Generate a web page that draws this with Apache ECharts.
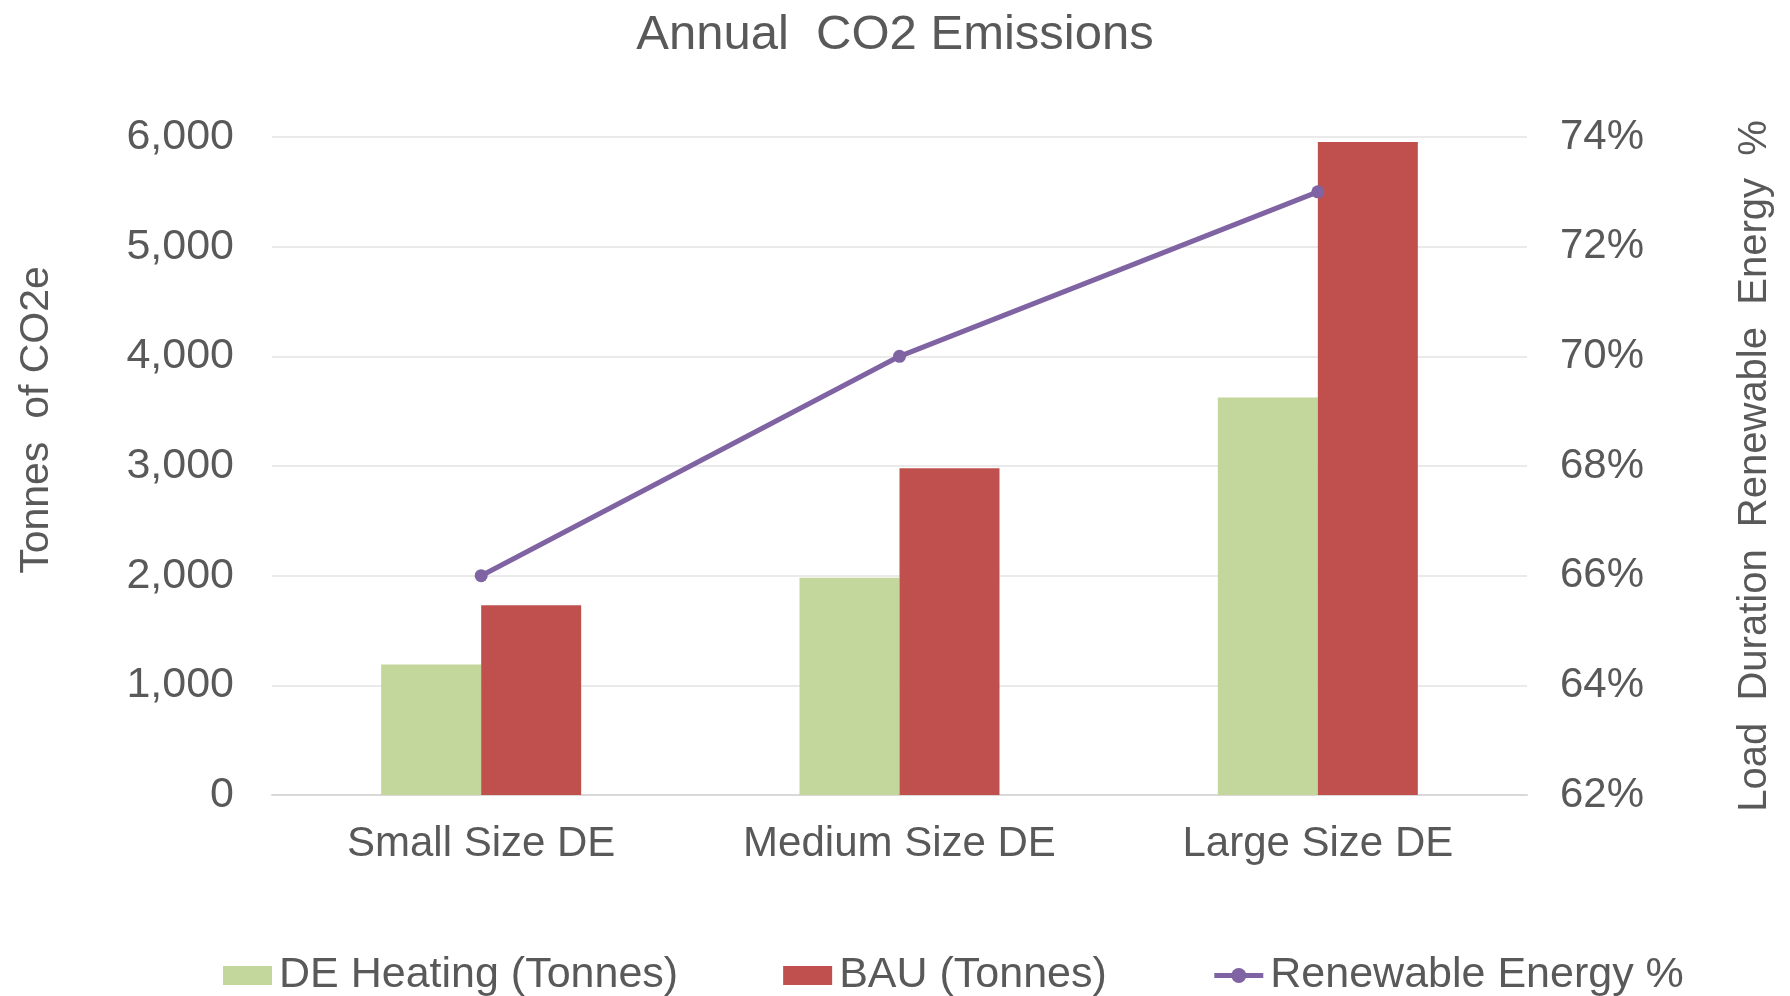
<!DOCTYPE html>
<html>
<head>
<meta charset="utf-8">
<script src="https://cdn.jsdelivr.net/npm/echarts@6/dist/echarts.min.js"></script>
<style>
html,body{margin:0;padding:0;background:#fff;}
#chart{width:1790px;height:996px;}
</style>
</head>
<body>
<div id="chart"></div>
<script>
const categories = ['Small Size DE', 'Medium Size DE', 'Large Size DE'];
const deHeating = [1190, 1980, 3625];
const bau = [1730, 2980, 5955];
const renewablePct = [66, 70, 73];
const leftTicks = { min: 0, max: 6000, interval: 1000 };
const rightTicks = { min: 62, max: 74, interval: 2 };

const textColor = '#595959';
const font = 'Liberation Sans, Arial, sans-serif';

const chart = echarts.init(document.getElementById('chart'));
chart.setOption({
  backgroundColor: '#ffffff',
  animation: false,
  title: {
    text: 'Annual  CO2 Emissions',
    left: 'center',
    top: 6,
    textStyle: { color: textColor, fontSize: 49, fontWeight: 'normal', fontFamily: font }
  },
  legend: {
    left: 218,
    top: 949,
    itemWidth: 49,
    itemHeight: 19,
    itemGap: 105,
    textStyle: { color: textColor, fontSize: 43, fontFamily: font, padding: [0, 0, 0, 2] },
    data: [
      { name: 'DE Heating (Tonnes)', icon: 'rect' },
      { name: 'BAU (Tonnes)', icon: 'rect' },
      { name: 'Renewable Energy %', lineStyle: { width: 5, color: '#7F63A2' } }
    ]
  },
  grid: { left: 272, right: 263, top: 137, bottom: 201 },
  xAxis: {
    type: 'category',
    data: categories,
    axisTick: { show: false },
    axisLine: { lineStyle: { color: '#D9D9D9', width: 2 } },
    axisLabel: { color: textColor, fontSize: 42, fontFamily: font, margin: 28 }
  },
  yAxis: [
    {
      type: 'value',
      min: leftTicks.min, max: leftTicks.max, interval: leftTicks.interval,
      name: 'Tonnes  of CO2e',
      nameLocation: 'middle',
      nameRotate: 90,
      nameGap: 215,
      nameTextStyle: { color: textColor, fontSize: 41, fontFamily: font, padding: [0, 0, 0, 92] },
      axisLine: { show: false },
      axisTick: { show: false },
      splitLine: { lineStyle: { color: '#E3E3E3', width: 1.5 } },
      axisLabel: {
        color: textColor, fontSize: 43, fontFamily: font, margin: 38,
        formatter: v => v.toLocaleString('en-US')
      }
    },
    {
      type: 'value',
      position: 'right',
      min: rightTicks.min, max: rightTicks.max, interval: rightTicks.interval,
      name: 'Load  Duration  Renewable  Energy  %',
      nameLocation: 'middle',
      nameRotate: 90,
      nameGap: 208,
      nameTextStyle: { color: textColor, fontSize: 40, fontFamily: font },
      axisLine: { show: false },
      axisTick: { show: false },
      splitLine: { show: false },
      axisLabel: { color: textColor, fontSize: 42, fontFamily: font, margin: 33, formatter: '{value}%' }
    }
  ],
  series: [
    {
      name: 'DE Heating (Tonnes)',
      type: 'bar',
      data: deHeating,
      barWidth: 100,
      barGap: '0%',
      itemStyle: { color: '#C3D69B' }
    },
    {
      name: 'BAU (Tonnes)',
      type: 'bar',
      data: bau,
      barWidth: 100,
      barGap: '0%',
      itemStyle: { color: '#C0504D' }
    },
    {
      name: 'Renewable Energy %',
      type: 'line',
      yAxisIndex: 1,
      data: renewablePct,
      symbol: 'circle',
      symbolSize: 13,
      lineStyle: { color: '#7F63A2', width: 5 },
      itemStyle: { color: '#7F63A2' }
    }
  ]
});
</script>
</body>
</html>
